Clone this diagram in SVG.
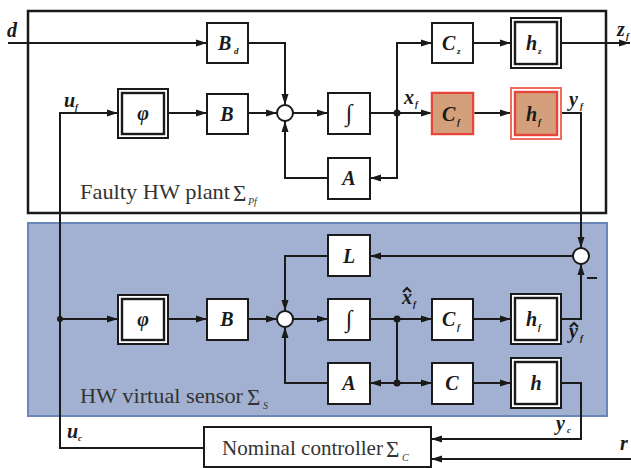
<svg xmlns="http://www.w3.org/2000/svg" width="631" height="468" viewBox="0 0 631 468" font-family="Liberation Serif, DejaVu Serif, serif">
<defs>
<marker id="ah" markerUnits="userSpaceOnUse" markerWidth="12" markerHeight="8" refX="11" refY="4" orient="auto">
<path d="M0,0.5 L11,4 L0,7.5 z" fill="#1a1a1a"/>
</marker>
<style>
.box{fill:#fff;stroke:#1a1a1a;stroke-width:2}
.ibox{fill:#fff;stroke:#1a1a1a;stroke-width:2.4}
.ob{fill:#d4a07c;stroke:#e8453c;stroke-width:2}
.ln{fill:none;stroke:#1a1a1a;stroke-width:2}
.ar{fill:none;stroke:#1a1a1a;stroke-width:2;marker-end:url(#ah)}
.m{font-weight:bold;font-style:italic;font-size:20px;fill:#1a1a1a}
.s{font-weight:bold;font-style:italic;font-size:9px;fill:#1a1a1a}
.t{font-size:21px;fill:#333}
.sg{font-size:23px;fill:#333}
.ss{font-style:italic;font-size:10px;fill:#333}
.dot{fill:#1a1a1a}
</style>
</defs>
<g id="plant-frame">
<rect x="28" y="11" width="578" height="202" fill="none" stroke="#1a1a1a" stroke-width="2.5"/>
<text class="t" x="80" y="199" textLength="150" lengthAdjust="spacingAndGlyphs">Faulty HW plant</text>
<text class="sg" x="233" y="201">Σ</text>
<text class="ss" x="248" y="205">Pf</text>
</g>
<g id="sensor-frame">
<rect x="28" y="223" width="579" height="193" fill="#a2b1d1" stroke="#6b86b8" stroke-width="2"/>
<text class="t" x="80" y="403" textLength="163" lengthAdjust="spacingAndGlyphs">HW virtual sensor</text>
<text class="sg" x="247" y="405">Σ</text>
<text class="ss" x="263" y="409">S</text>
</g>
<g id="connectors">
<path class="ar" d="M8,43 H207"/>
<path class="ar" d="M248,43 H285 V105"/>
<path class="ar" d="M204,448 H60 V113 H118"/>
<path class="ar" d="M60,319 H118"/>
<circle class="dot" cx="60" cy="319" r="3"/>
<path class="ar" d="M168,113 H207"/>
<path class="ar" d="M248,113 H277"/>
<path class="ar" d="M293,113 H328"/>
<path class="ar" d="M370,113 H432"/>
<circle class="dot" cx="397" cy="113" r="3.5"/>
<path class="ar" d="M397,113 V43 H432"/>
<path class="ar" d="M397,113 V178 H370"/>
<path class="ar" d="M328,178 H285 V121"/>
<path class="ar" d="M473,43 H511"/>
<path class="ar" d="M561,43 H630"/>
<path class="ar" d="M473,113 H511"/>
<path class="ar" d="M561,113 H581 V248"/>
<path class="ar" d="M573,256 H370"/>
<path class="ar" d="M328,256 H285 V311"/>
<path class="ar" d="M168,319 H207"/>
<path class="ar" d="M248,319 H277"/>
<path class="ar" d="M293,319 H328"/>
<path class="ar" d="M370,319 H432"/>
<circle class="dot" cx="397" cy="319" r="3.5"/>
<path class="ln" d="M397,319 V383"/>
<circle class="dot" cx="397" cy="383" r="3.5"/>
<path class="ar" d="M397,383 H370"/>
<path class="ar" d="M397,383 H432"/>
<path class="ar" d="M328,383 H285 V327"/>
<path class="ar" d="M473,319 H511"/>
<path class="ar" d="M473,383 H511"/>
<path class="ar" d="M561,319 H581 V264"/>
<path class="ar" d="M561,383 H581 V439 H431"/>
<path class="ar" d="M631,459 H431"/>
<path class="ln" d="M587,278 H597"/>
<text class="m" x="7" y="37">d</text>
<text class="m" x="64" y="107">u</text><text class="s" x="75" y="110">f</text>
<text class="m" x="404" y="104">x</text><text class="s" x="415" y="107">f</text>
<text class="m" x="617" y="36">z</text><text class="s" x="626" y="39">f</text>
<text class="m" x="569" y="106">y</text><text class="s" x="580" y="109">f</text>
<text class="m" x="402" y="304">x</text><text class="s" x="413" y="307">f</text>
<path class="ln" d="M403,292 L407,288 L411,292" stroke-width="1.5"/>
<text class="m" x="569" y="338">y</text><text class="s" x="580" y="341">f</text>
<path class="ln" d="M570,327 L574,323 L578,327" stroke-width="1.5"/>
<text class="m" x="556" y="430">y</text><text class="s" x="567" y="433">c</text>
<text class="m" x="67" y="438">u</text><text class="s" x="78" y="441">c</text>
<text class="m" x="620" y="450">r</text>
</g>
<g id="Bd"><rect class="box" x="207" y="23" width="41" height="40"/><text class="m" x="218" y="50">B</text><text class="s" x="234" y="54">d</text></g>
<g id="phi1"><rect class="box" x="118" y="89" width="50" height="49"/><rect class="ibox" x="122" y="93" width="42" height="41"/><text class="m" x="143" y="120" text-anchor="middle">φ</text></g>
<g id="B1"><rect class="box" x="207" y="94" width="41" height="40"/><text class="m" x="227" y="121" text-anchor="middle">B</text></g>
<g id="sum1"><circle cx="285" cy="113" r="8" fill="#fff" stroke="#1a1a1a" stroke-width="2"/></g>
<g id="int1"><rect class="box" x="328" y="93" width="42" height="41"/><text x="349" y="121" text-anchor="middle" font-style="italic" font-size="24" fill="#1a1a1a">∫</text></g>
<g id="A1"><rect class="box" x="328" y="158" width="42" height="41"/><text class="m" x="349" y="185" text-anchor="middle">A</text></g>
<g id="Cz"><rect class="box" x="432" y="23" width="41" height="40"/><text class="m" x="442" y="50">C</text><text class="s" x="457" y="54">z</text></g>
<g id="hz"><rect class="box" x="511" y="18" width="50" height="50"/><rect class="ibox" x="515" y="22" width="42" height="42"/><text class="m" x="526" y="50">h</text><text class="s" x="538" y="54">z</text></g>
<g id="Cf1"><rect x="431" y="92" width="43" height="43" fill="none" stroke="#f5a7a0" stroke-width="1"/><rect class="ob" x="432" y="93" width="41" height="41"/><text class="m" x="442" y="121">C</text><text class="s" x="457" y="125">f</text></g>
<g id="hf1"><rect x="511" y="88" width="50" height="51" fill="#fff" stroke="#ef6a5f" stroke-width="2"/><rect x="515" y="92" width="42" height="43" fill="#d4a07c" stroke="#e8453c" stroke-width="2.4"/><text class="m" x="526" y="121">h</text><text class="s" x="538" y="125">f</text></g>
<g id="sum2"><circle cx="581" cy="256" r="8" fill="#fff" stroke="#1a1a1a" stroke-width="2"/></g>
<g id="L"><rect class="box" x="328" y="235" width="42" height="41"/><text class="m" x="349" y="263" text-anchor="middle">L</text></g>
<g id="phi2"><rect class="box" x="118" y="295" width="50" height="49"/><rect class="ibox" x="122" y="299" width="42" height="41"/><text class="m" x="143" y="326" text-anchor="middle">φ</text></g>
<g id="B2"><rect class="box" x="207" y="299" width="41" height="41"/><text class="m" x="227" y="326" text-anchor="middle">B</text></g>
<g id="sum3"><circle cx="285" cy="319" r="8" fill="#fff" stroke="#1a1a1a" stroke-width="2"/></g>
<g id="int2"><rect class="box" x="328" y="299" width="42" height="41"/><text x="349" y="327" text-anchor="middle" font-style="italic" font-size="24" fill="#1a1a1a">∫</text></g>
<g id="Cf2"><rect class="box" x="432" y="299" width="41" height="41"/><text class="m" x="442" y="326">C</text><text class="s" x="457" y="330">f</text></g>
<g id="hf2"><rect class="box" x="511" y="294" width="50" height="50"/><rect class="ibox" x="515" y="298" width="42" height="42"/><text class="m" x="526" y="326">h</text><text class="s" x="538" y="330">f</text></g>
<g id="A2"><rect class="box" x="328" y="363" width="42" height="41"/><text class="m" x="349" y="390" text-anchor="middle">A</text></g>
<g id="C"><rect class="box" x="432" y="363" width="41" height="41"/><text class="m" x="452" y="390" text-anchor="middle">C</text></g>
<g id="h"><rect class="box" x="511" y="358" width="50" height="50"/><rect class="ibox" x="515" y="362" width="42" height="42"/><text class="m" x="536" y="390" text-anchor="middle">h</text></g>
<g id="controller"><rect class="box" x="204" y="427" width="227" height="40"/><text class="t" x="222" y="455" textLength="161" lengthAdjust="spacingAndGlyphs">Nominal controller</text><text class="sg" x="386" y="457">Σ</text><text class="ss" x="402" y="461">C</text></g>
</svg>
